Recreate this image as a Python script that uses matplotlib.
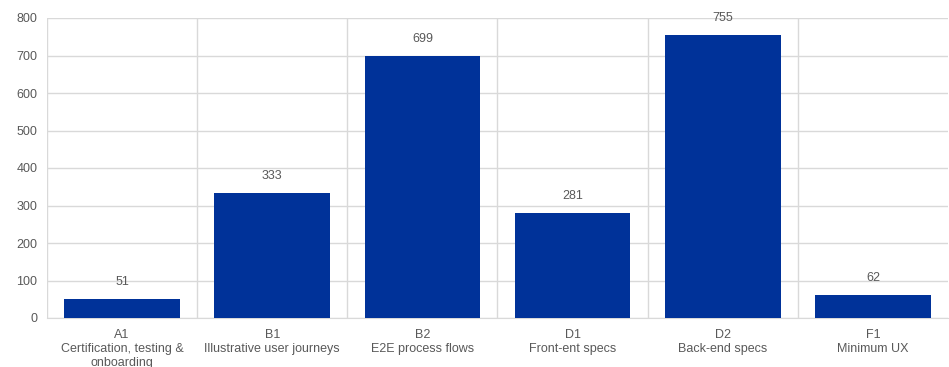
import matplotlib.pyplot as plt
import numpy as np

codes = ["A1", "B1", "B2", "D1", "D2", "F1"]
names = ["Certification, testing &\nonboarding", "Illustrative user journeys",
         "E2E process flows", "Front-ent specs", "Back-end specs", "Minimum UX"]
values = [51, 333, 699, 281, 755, 62]

BLUE = "#003299"
GRID = "#d9d9d9"
TEXT = "#595959"

plt.rcParams["font.family"] = ["Liberation Sans", "DejaVu Sans"]

fig = plt.figure(figsize=(9.49, 3.67), dpi=100)
ax = fig.add_axes([47 / 949, 1 - 318 / 367, 901 / 949, 300 / 367])

x = np.arange(len(values))
ax.bar(x, values, width=0.77, color=BLUE, zorder=3)

for xi, v in zip(x, values):
    ax.annotate(str(v), (xi, v), xytext=(0, 8), textcoords="offset points",
                ha="center", va="bottom", fontsize=9, color=TEXT, zorder=4)

ax.set_xlim(-0.5, len(values) - 0.5)
ax.set_ylim(0, 800)
ax.set_yticks(range(0, 801, 100))

ax.set_xticks(x)
ax.set_xticklabels([f"{c}\n{n}" for c, n in zip(codes, names)],
                   fontsize=9, color=TEXT, linespacing=1.2)
ax.tick_params(axis="y", labelsize=9, labelcolor=TEXT, length=0, pad=7)
ax.tick_params(axis="x", length=0, pad=8)

ax.yaxis.grid(True, color=GRID, linewidth=1, zorder=0)
for b in np.arange(-0.5, len(values) - 0.5, 1):
    ax.axvline(b, color=GRID, linewidth=1, zorder=0)

for s in ["top", "right", "left"]:
    ax.spines[s].set_visible(False)
ax.spines["bottom"].set_color(GRID)

fig.savefig("out.png", dpi=100)
